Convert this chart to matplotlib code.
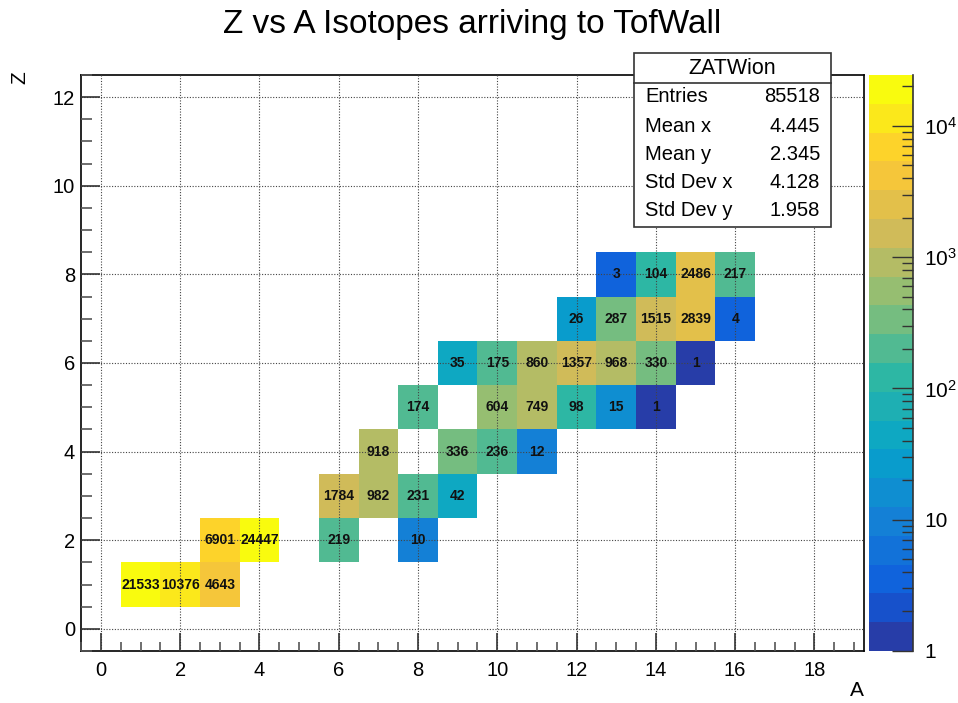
import numpy as np
import matplotlib
matplotlib.use('Agg')
import matplotlib.pyplot as plt
from matplotlib.colors import LinearSegmentedColormap, ListedColormap, LogNorm
from matplotlib.patches import Rectangle
from matplotlib.lines import Line2D
import matplotlib.ticker as mtick

plt.rcParams['font.family'] = ['Liberation Sans', 'DejaVu Sans']

# Bin contents (A, Z, entries)
A_bins = [1, 2, 3,
          3, 4, 6, 8,
          6, 7, 8, 9,
          7, 9, 10, 11,
          8, 10, 11, 12, 13, 14,
          9, 10, 11, 12, 13, 14, 15,
          12, 13, 14, 15, 16,
          13, 14, 15, 16]
Z_bins = [1, 1, 1,
          2, 2, 2, 2,
          3, 3, 3, 3,
          4, 4, 4, 4,
          5, 5, 5, 5, 5, 5,
          6, 6, 6, 6, 6, 6, 6,
          7, 7, 7, 7, 7,
          8, 8, 8, 8]
counts = [21533, 10376, 4643,
          6901, 24447, 219, 10,
          1784, 982, 231, 42,
          918, 336, 236, 12,
          174, 604, 749, 98, 15, 1,
          35, 175, 860, 1357, 968, 330, 1,
          26, 287, 1515, 2839, 4,
          3, 104, 2486, 217]

stat_names = ['Entries', 'Mean x', 'Mean y', 'Std Dev x', 'Std Dev y']
stat_values = ['85518', '4.445', '2.345', '4.128', '1.958']

# Histogram: 20 bins in A, 13 bins in Z
nx, ny = 20, 13
x_edges = np.arange(nx + 1) - 0.5
y_edges = np.arange(ny + 1) - 0.5
H = np.zeros((ny, nx))
for a, z, c in zip(A_bins, Z_bins, counts):
    H[z, a] = c
H = np.ma.masked_where(H <= 0, H)

# ROOT kBird palette, 20 contours
stops = [0.0, 0.125, 0.25, 0.375, 0.5, 0.625, 0.75, 0.875, 1.0]
red = [0.2082, 0.0592, 0.0780, 0.0232, 0.1802, 0.5301, 0.8186, 0.9956, 0.9764]
green = [0.1664, 0.3599, 0.5041, 0.6419, 0.7178, 0.7492, 0.7328, 0.7862, 0.9832]
blue = [0.5293, 0.8684, 0.8385, 0.7914, 0.6425, 0.4662, 0.3499, 0.1968, 0.0539]
bird = LinearSegmentedColormap.from_list(
    'bird', list(zip(stops, zip(red, green, blue))), N=256)
ncont = 20
cmap = ListedColormap([bird(min((i + 0.99) / ncont, 1.0)) for i in range(ncont)])
cmap.set_bad('white')

fig = plt.figure(figsize=(9.58, 7.03), dpi=100)
ax = fig.add_axes([0.0846, 0.0740, 0.8173, 0.8193])
cax = fig.add_axes([0.9071, 0.0740, 0.0459, 0.8193])

mesh = ax.pcolormesh(x_edges, y_edges, H, cmap=cmap,
                     norm=LogNorm(vmin=1, vmax=max(counts)), zorder=1)

for a, z, c in zip(A_bins, Z_bins, counts):
    ax.text(a, z, str(c), ha='center', va='center', fontsize=10,
            fontweight='bold', color='#111111', zorder=3)

ax.set_xlim(-0.5, 19.25)
ax.set_ylim(-0.5, 12.5)
ax.xaxis.set_major_locator(mtick.MultipleLocator(2))
ax.xaxis.set_minor_locator(mtick.MultipleLocator(0.5))
ax.yaxis.set_major_locator(mtick.MultipleLocator(2))
ax.yaxis.set_minor_locator(mtick.MultipleLocator(0.5))
ax.tick_params(axis='x', which='major', direction='in', length=13, width=1.2,
               color='#333333', labelsize=14.5, pad=7)
ax.tick_params(axis='x', which='minor', direction='in', length=6.5, width=1.2,
               color='#555555')
ax.tick_params(axis='y', which='major', direction='in', length=13.7, width=1.2,
               color='#333333', labelsize=14.5, pad=4.3)
ax.tick_params(axis='y', which='minor', direction='in', length=8, width=1.2,
               color='#555555')
ax.grid(True, which='major', linestyle=(0, (1, 1.5)), color='#444444',
        linewidth=0.8)
ax.set_axisbelow(False)
for s in ax.spines.values():
    s.set_linewidth(1.2)
    s.set_color('black')

# Colour scale
cb = fig.colorbar(mesh, cax=cax)
cb.outline.set_visible(False)
cax.yaxis.set_major_locator(mtick.FixedLocator([1, 10, 100, 1000, 10000]))
cax.yaxis.set_major_formatter(mtick.FixedFormatter(
    ['1', '10', r'$\mathregular{10^{2}}$', r'$\mathregular{10^{3}}$',
     r'$\mathregular{10^{4}}$']))
cax.yaxis.set_minor_locator(mtick.LogLocator(base=10, subs=np.arange(2, 10)))
cax.yaxis.set_minor_formatter(mtick.NullFormatter())
cax.tick_params(which='major', direction='in', length=15, width=1,
                color='#333333', labelsize=15, pad=8)
cax.tick_params(which='minor', direction='in', length=8, width=1,
                color='#333333')
cax.plot([1, 1], [0, 1], transform=cax.transAxes, color='#333333',
         linewidth=1.2, clip_on=False)

# Title and axis labels
fig.text(472 / 958, 1 - 24 / 703, 'Z vs A Isotopes arriving to TofWall',
         ha='center', va='center', fontsize=24)
fig.text(857 / 958, 1 - 690 / 703, 'A', ha='center', va='center', fontsize=15)
fig.text(20 / 958, 1 - 78 / 703, 'Z', ha='center', va='center', fontsize=15,
         rotation=90)

# Statistics box
x0, x1 = 634 / 958, 831 / 958
y0, y1 = 1 - 227 / 703, 1 - 53 / 703
fig.add_artist(Rectangle((x0, y0), x1 - x0, y1 - y0, transform=fig.transFigure,
                         facecolor='white', edgecolor='#333333', linewidth=1.2,
                         zorder=5))
yh = 1 - 83 / 703
fig.add_artist(Line2D([x0, x1], [yh, yh], transform=fig.transFigure,
                      color='#333333', linewidth=1.2, zorder=6))
fig.text(732 / 958, 1 - 68 / 703, 'ZATWion', ha='center', va='center',
         fontsize=15.5, zorder=7)
row_y = [97, 126, 154, 183, 211]
for name, val, yy in zip(stat_names, stat_values, row_y):
    fig.text(645 / 958, 1 - yy / 703, name, ha='left', va='center',
             fontsize=14.5, zorder=7)
    fig.text(820 / 958, 1 - yy / 703, val, ha='right', va='center',
             fontsize=14.5, zorder=7)

fig.savefig('out.png', dpi=100)
